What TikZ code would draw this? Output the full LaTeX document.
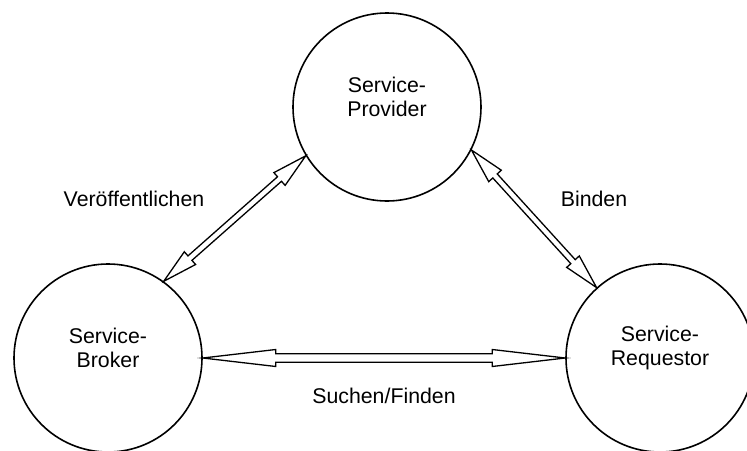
\documentclass[tikz,border=0pt]{standalone}
\usepackage{fontspec}
\setmainfont{Liberation Sans}
\usetikzlibrary{calc}

\begin{document}
\begin{tikzpicture}[
    x=1pt, y=-1pt,
    role/.style={draw, circle, line width=1.6pt, minimum size=188pt, inner sep=0pt},
    rolename/.style={font=\fontsize{21.3}{23.5}\selectfont, align=center, yshift=10pt},
    action/.style={font=\fontsize{21.3}{23.5}\selectfont},
    % hollow two-headed block arrow: #1 head length, #2 half shaft width
    dblarrow/.style 2 args={line width=1.3pt, line join=miter, to path={
        let \p1=(\tikztostart), \p2=(\tikztotarget),
            \n1={atan2(\y2-\y1,\x2-\x1)}, \n2={veclen(\x2-\x1,\y2-\y1)} in
        [shift={(\p1)}, rotate=\n1]
        (0pt,0pt) -- (#1pt,8.5pt) -- (#1pt,#2pt) -- ({(\n2-#1)*1pt},#2pt)
        -- ({(\n2-#1)*1pt},8.5pt) -- ({\n2*1pt},0pt) -- ({(\n2-#1)*1pt},-8.5pt)
        -- ({(\n2-#1)*1pt},-#2pt) -- (#1pt,-#2pt) -- (#1pt,-8.5pt) -- cycle}}
]
\path[use as bounding box, clip] (0,0) rectangle (747,450);

% Roles
\node[role, label={[rolename]center:Service-\\Provider}] (prov) at (387,107) {};
\node[role, label={[rolename]center:Service-\\Broker}] (broker) at (108,358) {};
\node[role, label={[rolename]center:Service-\\Requestor}] (req) at (660,358) {};

% Interactions
\draw[dblarrow={35}{3}] (broker.54) to (prov.211);
\draw[dblarrow={35}{3}] (prov.333) to (req.132);
\draw[dblarrow={73}{4.3}] (broker.0) to (req.180);

\node[action] (publish) at (134,199) {Veröffentlichen};
\node[action] (bind) at (594,199) {Binden};
\node[action] (find) at (384,396) {Suchen/Finden};

\end{tikzpicture}
\end{document}
